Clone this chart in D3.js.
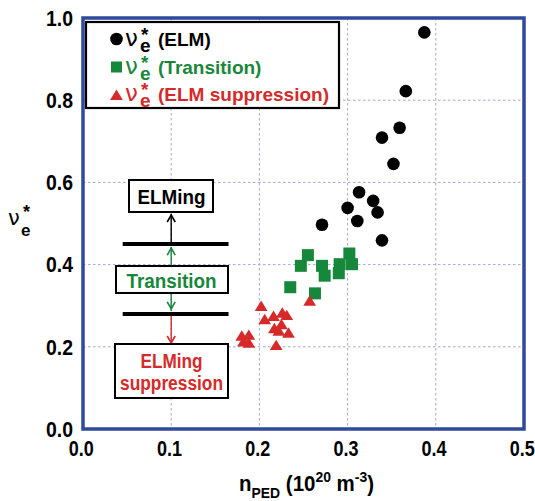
<!DOCTYPE html>
<html>
<head>
<meta charset="utf-8">
<script src="https://cdn.jsdelivr.net/npm/d3@7"></script>
<style>
  html, body { margin: 0; padding: 0; background: #fff; }
  svg { display: block; }
  .bold { font-family: "Liberation Sans", Arial, Helvetica, sans-serif; font-weight: bold; }
  .greek { font-family: "DejaVu Sans", sans-serif; font-weight: normal; }
</style>
</head>
<body>
<svg id="chart" width="535" height="501"></svg>
<script>
// ---- data ----
const elmX = [0.387, 0.366, 0.359, 0.339, 0.352, 0.313, 0.329, 0.300, 0.334, 0.311, 0.271, 0.339];
const elmY = [0.965, 0.822, 0.733, 0.709, 0.645, 0.576, 0.555, 0.538, 0.527, 0.506, 0.497, 0.459];

const transX = [0.255, 0.247, 0.271, 0.274, 0.302, 0.305, 0.291, 0.290, 0.235, 0.263];
const transY = [0.423, 0.397, 0.397, 0.373, 0.427, 0.401, 0.401, 0.379, 0.345, 0.330];

const suppX = [0.257, 0.202, 0.206, 0.216, 0.226, 0.231, 0.217, 0.225, 0.222, 0.233, 0.219, 0.180, 0.188, 0.182, 0.188];
const suppY = [0.312, 0.299, 0.267, 0.275, 0.283, 0.277, 0.245, 0.255, 0.239, 0.234, 0.204, 0.227, 0.229, 0.213, 0.210];

const xTicks = [0.0, 0.1, 0.2, 0.3, 0.4, 0.5];
const yTicks = [0.0, 0.2, 0.4, 0.6, 0.8, 1.0];

const regimeBars = [0.45, 0.28];   // thresholds drawn as black bars

// ---- layout ----
const svg = d3.select("#chart");
const L = 83, R = 524, T = 18, B = 429;
const x = d3.scaleLinear().domain([0, 0.5]).range([L, R]);
const y = d3.scaleLinear().domain([0, 1.0]).range([B, T]);

const BLACK = "#000", GREEN = "#17873c", RED = "#d62a2a", BLUE = "#2e4a9a", GRID = "#a4a4dc";

// grid
svg.append("g").selectAll("line").data(xTicks.filter(v => v > 0 && v < 0.5)).join("line")
  .attr("x1", d => x(d)).attr("x2", d => x(d)).attr("y1", T).attr("y2", B)
  .attr("stroke", GRID).attr("stroke-width", 1).attr("stroke-dasharray", "2.5,2.5");
svg.append("g").selectAll("line").data(yTicks.filter(v => v > 0 && v < 1)).join("line")
  .attr("y1", d => y(d)).attr("y2", d => y(d)).attr("x1", L).attr("x2", R)
  .attr("stroke", GRID).attr("stroke-width", 1).attr("stroke-dasharray", "2.5,2.5");

// axes (labels only, condensed bold)
const xAxis = d3.axisBottom(x).tickValues(xTicks).tickFormat(d3.format(".1f")).tickSize(0).tickPadding(11);
const gx = svg.append("g").attr("transform", `translate(0,${B})`).call(xAxis);
gx.select(".domain").remove();
gx.selectAll("text").attr("class", "bold").attr("font-size", 22.5).attr("fill", BLACK)
  .attr("dx", -2.2)
  .attr("textLength", 25).attr("lengthAdjust", "spacingAndGlyphs");

const yAxis = d3.axisLeft(y).tickValues(yTicks).tickFormat(d3.format(".1f")).tickSize(0).tickPadding(10);
const gy = svg.append("g").attr("transform", `translate(${L},0)`).call(yAxis);
gy.select(".domain").remove();
gy.selectAll("text").attr("class", "bold").attr("font-size", 22.5).attr("fill", BLACK)
  .attr("textLength", 27).attr("lengthAdjust", "spacingAndGlyphs");

// ---- annotations on the left ----
const ann = svg.append("g");
const cx = x(0.1);
function head(x0, tipY, dir, color) {
  // dir = +1 pointing up, -1 pointing down
  ann.append("path")
    .attr("d", `M${x0 - 4},${tipY + dir * 7} L${x0},${tipY} L${x0 + 4},${tipY + dir * 7}`)
    .attr("fill", "none").attr("stroke", color).attr("stroke-width", 1.6);
}
function vline(x0, y0, y1, color) {
  ann.append("line").attr("x1", x0).attr("x2", x0).attr("y1", y0).attr("y2", y1)
    .attr("stroke", color).attr("stroke-width", 1.4);
}
const barTop = y(regimeBars[0]), barBot = y(regimeBars[1]);
vline(cx, barTop, 214, BLACK); head(cx, 215, 1, BLACK);
vline(cx, 266, barTop + 3, GREEN); head(cx, barTop + 4, 1, GREEN);
vline(cx, 293, barBot - 3, GREEN); head(cx, barBot - 5, -1, GREEN);
vline(cx, barBot, 343, RED); head(cx, 343, -1, RED);

// bars
ann.selectAll("line.bar").data(regimeBars).join("line").attr("class", "bar")
  .attr("x1", x(0.045)).attr("x2", x(0.165)).attr("y1", d => y(d)).attr("y2", d => y(d))
  .attr("stroke", BLACK).attr("stroke-width", 4);

// boxes
function box(x0, y0, w, h) {
  ann.append("rect").attr("x", x0).attr("y", y0).attr("width", w).attr("height", h)
    .attr("fill", "#fff").attr("stroke", BLACK).attr("stroke-width", 2);
}
function label(txt, xc, yb, color, len) {
  ann.append("text").attr("class", "bold").attr("x", xc).attr("y", yb).attr("text-anchor", "middle")
    .attr("font-size", 20).attr("fill", color).attr("textLength", len).attr("lengthAdjust", "spacingAndGlyphs")
    .text(txt);
}
box(129, 180, 84, 32);
label("ELMing", 171.5, 204, BLACK, 68);
box(116, 266, 112, 27);
label("Transition", 171.5, 288, GREEN, 90);
box(115, 344, 113, 54);
label("ELMing", 171.5, 368, RED, 62);
label("suppression", 171.5, 390, RED, 103);

// ---- markers ----
const triPath = (s) => `M0,${-s * 0.5} L${s * 0.58},${s * 0.45} L${-s * 0.58},${s * 0.45} Z`;

svg.append("g").selectAll("circle").data(elmX.map((v, i) => [v, elmY[i]])).join("circle")
  .attr("cx", d => x(d[0])).attr("cy", d => y(d[1])).attr("r", 6.3).attr("fill", BLACK);

svg.append("g").selectAll("rect").data(transX.map((v, i) => [v, transY[i]])).join("rect")
  .attr("x", d => x(d[0]) - 6).attr("y", d => y(d[1]) - 6).attr("width", 12).attr("height", 12).attr("fill", GREEN);

svg.append("g").selectAll("path").data(suppX.map((v, i) => [v, suppY[i]])).join("path")
  .attr("transform", d => `translate(${x(d[0])},${y(d[1])})`).attr("d", triPath(11)).attr("fill", RED);

// ---- legend ----
const lg = svg.append("g");
lg.append("rect").attr("x", 86).attr("y", 22).attr("width", 253).attr("height", 86)
  .attr("fill", "#fff").attr("stroke", BLACK).attr("stroke-width", 2.2);
const legendItems = [
  { label: "(ELM)", color: BLACK, base: 46, shape: "circle" },
  { label: "(Transition)", color: GREEN, base: 74, shape: "square" },
  { label: "(ELM suppression)", color: RED, base: 101, shape: "triangle" }
];
legendItems.forEach(it => {
  const my = it.base - 7;
  if (it.shape === "circle") lg.append("circle").attr("cx", 116.5).attr("cy", my).attr("r", 6.3).attr("fill", it.color);
  else if (it.shape === "square") lg.append("rect").attr("x", 111).attr("y", my - 5.5).attr("width", 11).attr("height", 11).attr("fill", it.color);
  else lg.append("path").attr("transform", `translate(116.5,${my + 1})`).attr("d", triPath(11)).attr("fill", it.color);
  const t = lg.append("text").attr("class", "bold").attr("x", 125).attr("y", it.base).attr("font-size", 19).attr("fill", it.color);
  t.append("tspan").attr("class", "greek").attr("font-size", 23).text("ν");
  t.append("tspan").attr("x", 140).attr("dy", 6).text("e");
  t.append("tspan").attr("x", 141).attr("dy", -11).text("*");
  t.append("tspan").attr("x", 158).attr("dy", 5).text(it.label);
});

// ---- axis titles ----
const xtg = svg.append("g").attr("transform", "translate(239,491) scale(0.93,1)");
const xt = xtg.append("text").attr("class", "bold").attr("x", 0).attr("y", 0).attr("font-size", 22).attr("fill", BLACK);
xt.append("tspan").text("n");
xt.append("tspan").attr("font-size", 15).attr("dy", 7).text("PED");
xt.append("tspan").attr("dy", -7).text(" (10");
xt.append("tspan").attr("font-size", 15).attr("dy", -9).text("20");
xt.append("tspan").attr("dy", 9).text(" m");
xt.append("tspan").attr("font-size", 15).attr("dy", -9).text("-3");
xt.append("tspan").attr("dy", 9).text(")");

const yt = svg.append("text").attr("class", "bold").attr("x", 8).attr("y", 225).attr("font-size", 17).attr("fill", BLACK);
yt.append("tspan").attr("class", "greek").attr("font-size", 21).text("ν");
yt.append("tspan").attr("x", 21).attr("dy", 11).text("e");
yt.append("tspan").attr("x", 23).attr("dy", -18).attr("font-size", 18).text("*");

// frame
svg.append("rect").attr("x", L).attr("y", T).attr("width", R - L).attr("height", B - T)
  .attr("fill", "none").attr("stroke", BLUE).attr("stroke-width", 3.5);
</script>
</body>
</html>
